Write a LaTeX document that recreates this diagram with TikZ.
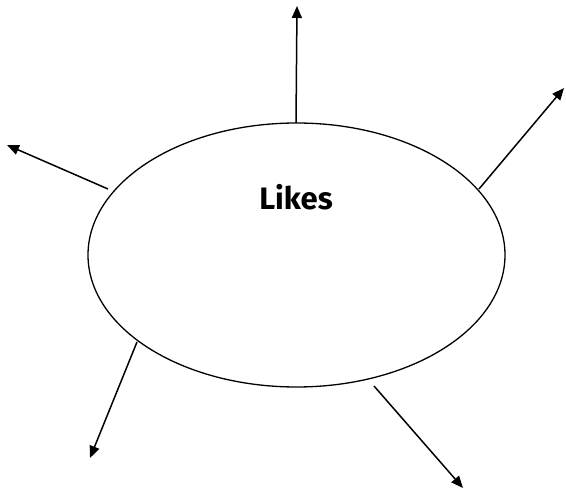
\documentclass[tikz,border=0pt]{standalone}
\usepackage{fontspec}
\setmainfont{Fira Sans}
\usetikzlibrary{shapes.geometric,arrows.meta}
\begin{document}
\begin{tikzpicture}[x=1pt,y=-1pt,
  blob/.style={draw,ellipse,line width=1.3pt,minimum width=417pt,minimum height=264pt,inner sep=0pt},
  lbl/.style={font=\fontsize{31}{36}\selectfont\bfseries},
  arr/.style={line width=1.5pt,-{Triangle[length=12pt,width=10pt]}}]
\useasboundingbox (0,0) rectangle (566,492);
\node[blob] (e) at (296.5,255) {};
\node[lbl] (t) at (296,197) {Likes};
\coordinate (s1) at (296,123); \coordinate (t1) at (297,6);
\coordinate (s2) at (479,189); \coordinate (t2) at (564,88);
\coordinate (s3) at (108,189); \coordinate (t3) at (7,145);
\coordinate (s4) at (137,342); \coordinate (t4) at (90,458);
\coordinate (s5) at (374,386); \coordinate (t5) at (463,488);
\draw[arr] (s1) -- (t1);
\draw[arr] (s2) -- (t2);
\draw[arr] (s3) -- (t3);
\draw[arr] (s4) -- (t4);
\draw[arr] (s5) -- (t5);
\end{tikzpicture}
\end{document}
